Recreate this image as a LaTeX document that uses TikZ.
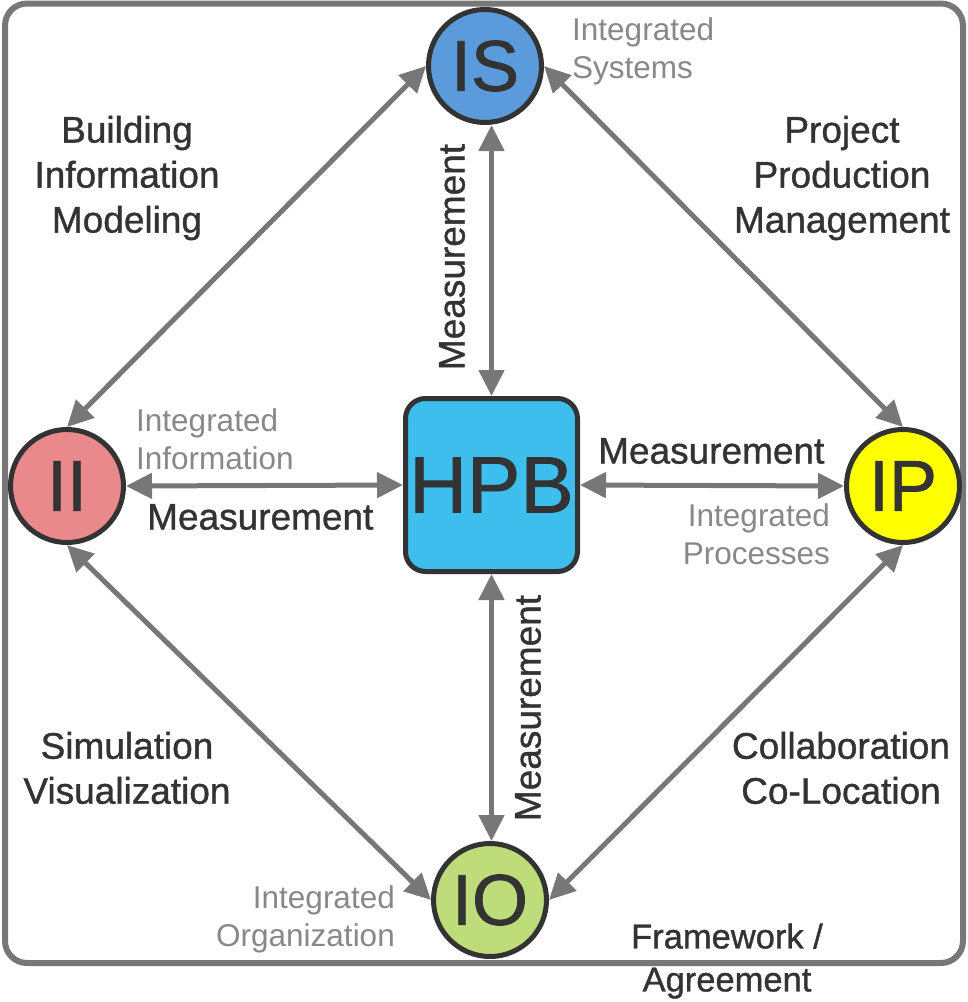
\documentclass[tikz,border=0pt]{standalone}
\usepackage{fontspec}
\setmainfont{Liberation Sans}
\newfontfamily\medfont[FakeBold=1]{Liberation Sans}
\usetikzlibrary{arrows.meta}
\definecolor{framegray}{HTML}{777777}
\definecolor{arrowgray}{HTML}{777777}
\definecolor{darktext}{HTML}{333333}
\definecolor{lighttext}{HTML}{888888}
\definecolor{isblue}{HTML}{5B9BDB}
\definecolor{iired}{HTML}{E9898B}
\definecolor{ipyellow}{HTML}{FFFF00}
\definecolor{iogreen}{HTML}{BEDC7A}
\definecolor{hpbblue}{HTML}{3DBEEC}
\begin{document}
\begin{tikzpicture}[x=1pt,y=-1pt,
 bubble/.style={circle, draw=darktext, line width=5pt, minimum size=113pt, inner sep=0pt, text=darktext, font=\medfont\fontsize{72}{72}\selectfont},
 conn/.style={draw=arrowgray, line width=5pt, {Triangle[length=26pt,width=25pt]}-{Triangle[length=26pt,width=25pt]}},
 biglabel/.style={text=darktext, font=\medfont\fontsize{37}{45}\selectfont, align=center, inner sep=0pt},
 smalllabel/.style={text=lighttext, font=\fontsize{31.5}{38}\selectfont, inner sep=0pt},
 measlabel/.style={text=darktext, font=\medfont\fontsize{37}{45}\selectfont, inner sep=0pt}]
\useasboundingbox (0,0) rectangle (968,1002);
\draw[framegray, line width=6pt, rounded corners=22pt] (5,3.5) rectangle (963,963);

\node[bubble, fill=isblue] (IS) at (485,66) {IS};
\node[bubble, fill=iired] (II) at (67,486) {II};
\node[bubble, fill=ipyellow] (IP) at (903,486) {IP};
\node[bubble, fill=iogreen] (IO) at (490,900) {IO};
\node[draw=darktext, line width=5pt, fill=hpbblue, rounded corners=20pt, minimum width=172pt, minimum height=173pt, text=darktext, font=\medfont\fontsize{80}{80}\selectfont, inner sep=0pt] (HPB) at (491.5,485) {HPB};

\draw[conn] (IS.west) -- (II.north);
\draw[conn] (IS.east) -- (IP.north);
\draw[conn] (II.south) -- (IO.west);
\draw[conn] (IP.south) -- (IO.east);
\draw[conn] (HPB.north) -- (HPB.north |- IS.south);
\draw[conn] (HPB.south) -- (HPB.south |- IO.north);
\draw[conn] (II.east) -- (HPB.west);
\draw[conn] (HPB.east) -- (IP.west);

\node[biglabel] (bim) at (127,178) {Building\\Information\\Modeling};
\node[biglabel] (ppm) at (842,178) {Project\\Production\\Management};
\node[biglabel] (sv) at (127,768) {Simulation\\Visualization};
\node[biglabel] (cc) at (841,768) {Collaboration\\Co-Location};
\node[smalllabel, align=left, anchor=west] (isl) at (572,51) {Integrated\\Systems};
\node[smalllabel, align=left, anchor=west] (iil) at (136,439) {Integrated\\Information};
\node[smalllabel, align=right, anchor=east] (ipl) at (830,534) {Integrated\\Processes};
\node[smalllabel, align=right, anchor=east] (iol) at (395,919) {Integrated\\Organization};
\node[measlabel, anchor=west] (m1) at (147,517) {Measurement};
\node[measlabel, anchor=west] (m2) at (598,451) {Measurement};
\node[measlabel, rotate=90] (m3) at (452,257) {Measurement};
\node[measlabel, rotate=90] (m4) at (528,708) {Measurement};
\node[text=darktext, font=\medfont\fontsize{34.5}{43}\selectfont, align=center, inner sep=0pt] (fw) at (727,961) {Framework /\\Agreement};
\end{tikzpicture}
\end{document}
